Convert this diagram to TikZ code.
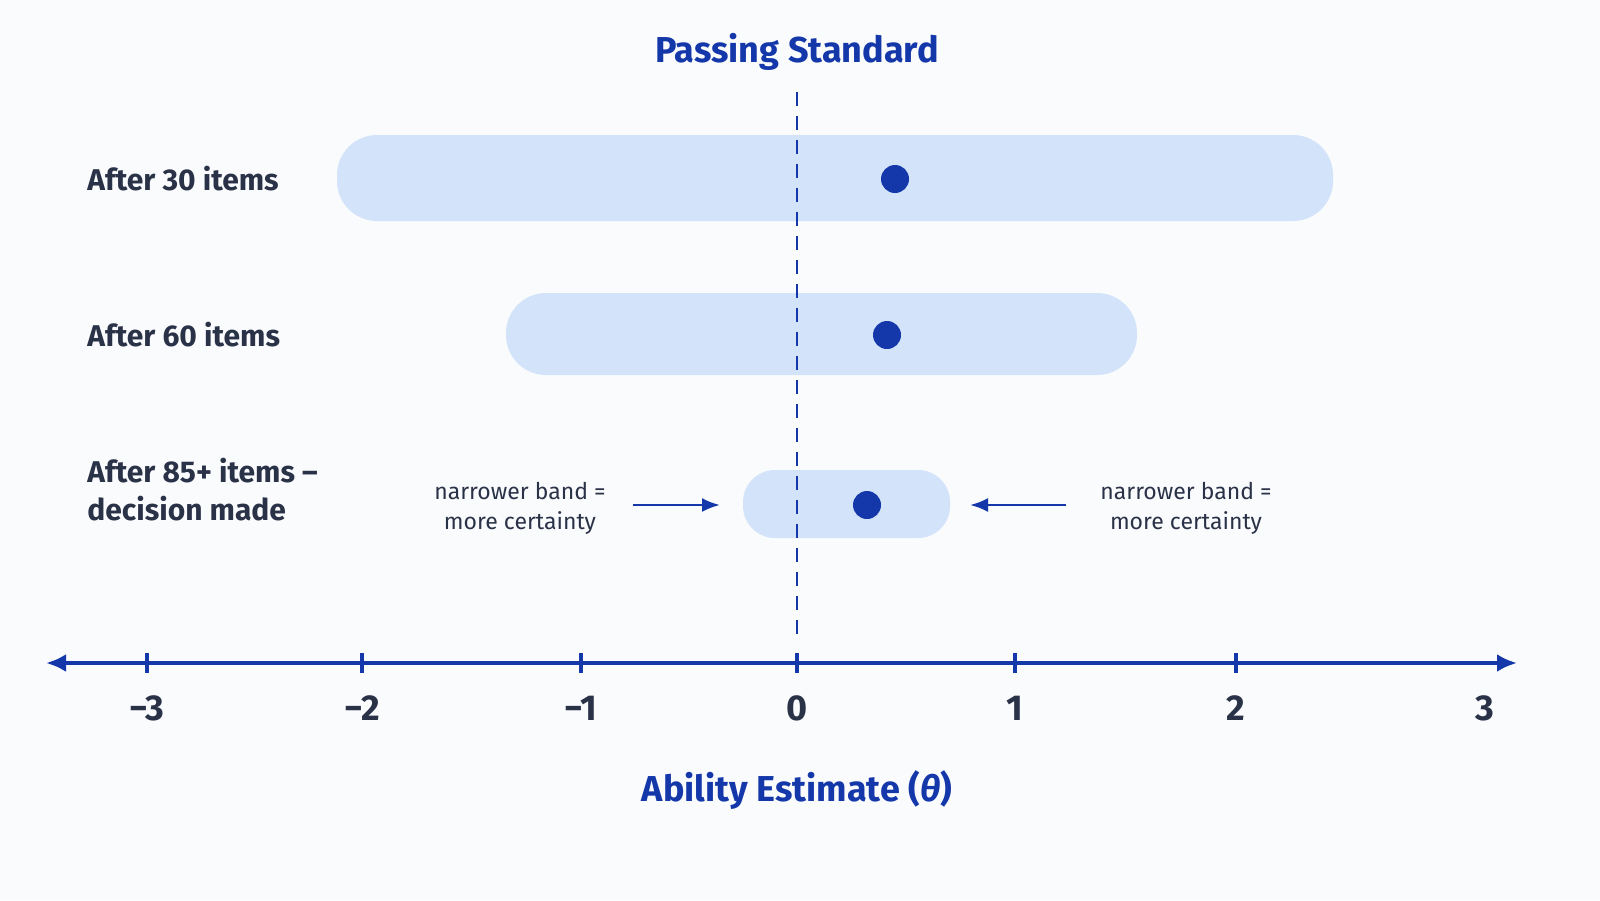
\documentclass[tikz,border=0pt]{standalone}
\usepackage{fontspec}
\usetikzlibrary{arrows.meta}
\setmainfont{Fira Sans}
\definecolor{bandblue}{RGB}{210,227,250}
\definecolor{deepblue}{RGB}{20,55,170}
\definecolor{inkgray}{RGB}{42,50,72}
\definecolor{pagebg}{RGB}{250,251,253}
\tikzset{every picture/.style={line width=0.75pt}}
\tikzset{
  band/.style={fill=bandblue,draw=none,rounded corners=20pt},
  estdot/.style={circle,fill=deepblue,inner sep=0pt,minimum size=14pt},
  rowlabel/.style={anchor=west,align=left,text=inkgray,font=\fontsize{15}{19}\selectfont\bfseries},
  notelabel/.style={align=center,text=inkgray,font=\fontsize{11.5}{15}\selectfont},
  ticklabel/.style={text=inkgray,font=\fontsize{18}{20}\selectfont\bfseries},
  titlelabel/.style={text=deepblue,font=\fontsize{18}{22}\selectfont\bfseries}
}
\begin{document}
\begin{tikzpicture}[x=0.5pt,y=0.5pt,yscale=-1,xscale=1]
\fill[pagebg] (0,0) rectangle (1600,900);
\useasboundingbox (0,0) rectangle (1600,900);
%Bands
\fill[band] (337,135) rectangle (1333,221);
\fill[band] (506,293) rectangle (1137,375);
\fill[band,rounded corners=16pt] (743,470) rectangle (950,538);
%Passing standard
\node[titlelabel] (pass) at (797,52) {Passing Standard};
\draw[deepblue,dashed,line width=1.2pt,dash pattern=on 7pt off 5pt] (797,92) -- (797,635);
%Dots
\node[estdot] (d30) at (895,179) {};
\node[estdot] (d60) at (887,335) {};
\node[estdot] (d85) at (867,505) {};
%Row labels
\node[rowlabel] (r30) at (80,179) {After 30 items};
\node[rowlabel] (r60) at (80,335) {After 60 items};
\node[rowlabel] (r85) at (80,490) {After 85+ items –\\decision made};
%Notes
\node[notelabel] (nl) at (520,508) {narrower band =\\more certainty};
\node[notelabel] (nr) at (1186,508) {narrower band =\\more certainty};
\coordinate (al) at (720,505);
\coordinate (ar) at (970,505);
\draw[deepblue,line width=1.3pt,-{Latex[length=9pt,width=7pt]}] (633,505) -- (al);
\draw[deepblue,line width=1.3pt,-{Latex[length=9pt,width=7pt]}] (1066,505) -- (ar);
%Axis
\draw[deepblue,line width=2pt,{Latex[length=10pt,width=9pt]}-{Latex[length=10pt,width=9pt]}] (46,663) -- (1517,663);
\foreach \x/\t in {147/−3,362/−2,581/−1,797/0,1015/1,1236/2}{
  \draw[deepblue,line width=2pt] (\x,653) -- (\x,673);
  \node[ticklabel] at (\x,708) {\t};
}
\node[ticklabel] (t3) at (1485,708) {3};
\node[titlelabel] (axis) at (797,790) {Ability Estimate (\itshape θ\upshape)};
\end{tikzpicture}
\end{document}
